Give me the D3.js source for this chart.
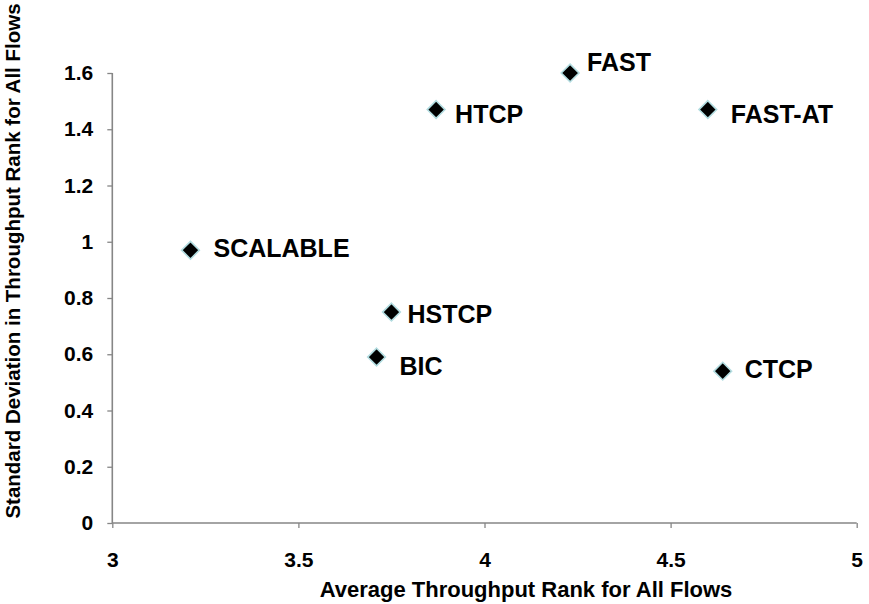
<!DOCTYPE html>
<html>
<head>
<meta charset="utf-8">
<script src="https://cdn.jsdelivr.net/npm/d3@7"></script>
<style>
  body { margin: 0; background: #fff; }
  text { font-family: "Liberation Sans", Arial, sans-serif; font-weight: bold; fill: #000; }
</style>
</head>
<body>
<svg id="chart" width="869" height="604"></svg>
<script>
// protocol names and their two metrics
const protocols = ["FAST", "HTCP", "FAST-AT", "SCALABLE", "HSTCP", "BIC", "CTCP"];
const avgRank = [4.23, 3.87, 4.60, 3.21, 3.75, 3.71, 4.64];
const stdDev = [1.60, 1.47, 1.47, 0.97, 0.75, 0.59, 0.54];

const xTicks = [3, 3.5, 4, 4.5, 5];
const yTicks = [0, 0.2, 0.4, 0.6, 0.8, 1, 1.2, 1.4, 1.6];

// label placement tweaks (px), like the hand-moved labels in the original
const labelDx = [17, 19, 23, 23, 16, 23, 22];
const labelDy = [-11, 4, 4, -2, 2, 9, -2];

const svg = d3.select("#chart");
const axisColor = "#868686";

const x = d3.scaleLinear().domain([3, 5]).range([112.3, 856.7]);
const y = d3.scaleLinear().domain([0, 1.6]).range([523, 73]);

const data = protocols.map((p, i) => ({ name: p, x: avgRank[i], y: stdDev[i], dx: labelDx[i], dy: labelDy[i] }));

// axes
const xAxis = svg.append("g")
  .attr("transform", `translate(0,${y(0)})`)
  .call(d3.axisBottom(x).tickValues(xTicks).tickSize(5).tickPadding(24).tickFormat(d3.format("")));

const yAxis = svg.append("g")
  .attr("transform", `translate(${x(3)},0)`)
  .call(d3.axisLeft(y).tickValues(yTicks).tickSize(5).tickPadding(14).tickFormat(d3.format("")));

[xAxis, yAxis].forEach(g => {
  g.select(".domain").attr("stroke", axisColor).attr("stroke-width", 1.6);
  g.selectAll(".tick line").attr("stroke", axisColor).attr("stroke-width", 1.3);
  g.selectAll(".tick text")
    .style("font-size", "21px")
    .style("font-family", '"Liberation Sans", Arial, sans-serif')
    .style("font-weight", "bold")
    .attr("fill", "#000");
});
xAxis.select(".domain").attr("d", `M${x(3)},0H${x(5)}`);
yAxis.select(".domain").attr("d", `M0,${y(1.6)}V${y(0)}`);

// markers
const diamond = d3.symbol().type(d3.symbolDiamond2).size(200);
svg.selectAll(".pt")
  .data(data)
  .enter()
  .append("path")
  .attr("class", "pt")
  .attr("d", diamond)
  .attr("transform", d => `translate(${x(d.x)},${y(d.y)})`)
  .attr("fill", "#000")
  .attr("stroke", "#b3dde1")
  .attr("stroke-width", 1.6);

// labels
svg.selectAll(".label")
  .data(data)
  .enter()
  .append("text")
  .attr("class", "label")
  .attr("x", d => x(d.x) + d.dx)
  .attr("y", d => y(d.y) + d.dy)
  .attr("dy", "0.36em")
  .style("font-size", "25px")
  .text(d => d.name);

// axis titles
svg.append("text")
  .attr("x", 526)
  .attr("y", 597)
  .attr("text-anchor", "middle")
  .style("font-size", "22px")
  .text("Average Throughput Rank for All Flows");

svg.append("text")
  .attr("transform", "translate(20,261) rotate(-90)")
  .attr("text-anchor", "middle")
  .style("font-size", "20.5px")
  .text("Standard Deviation in Throughput Rank for All Flows");
</script>
</body>
</html>
